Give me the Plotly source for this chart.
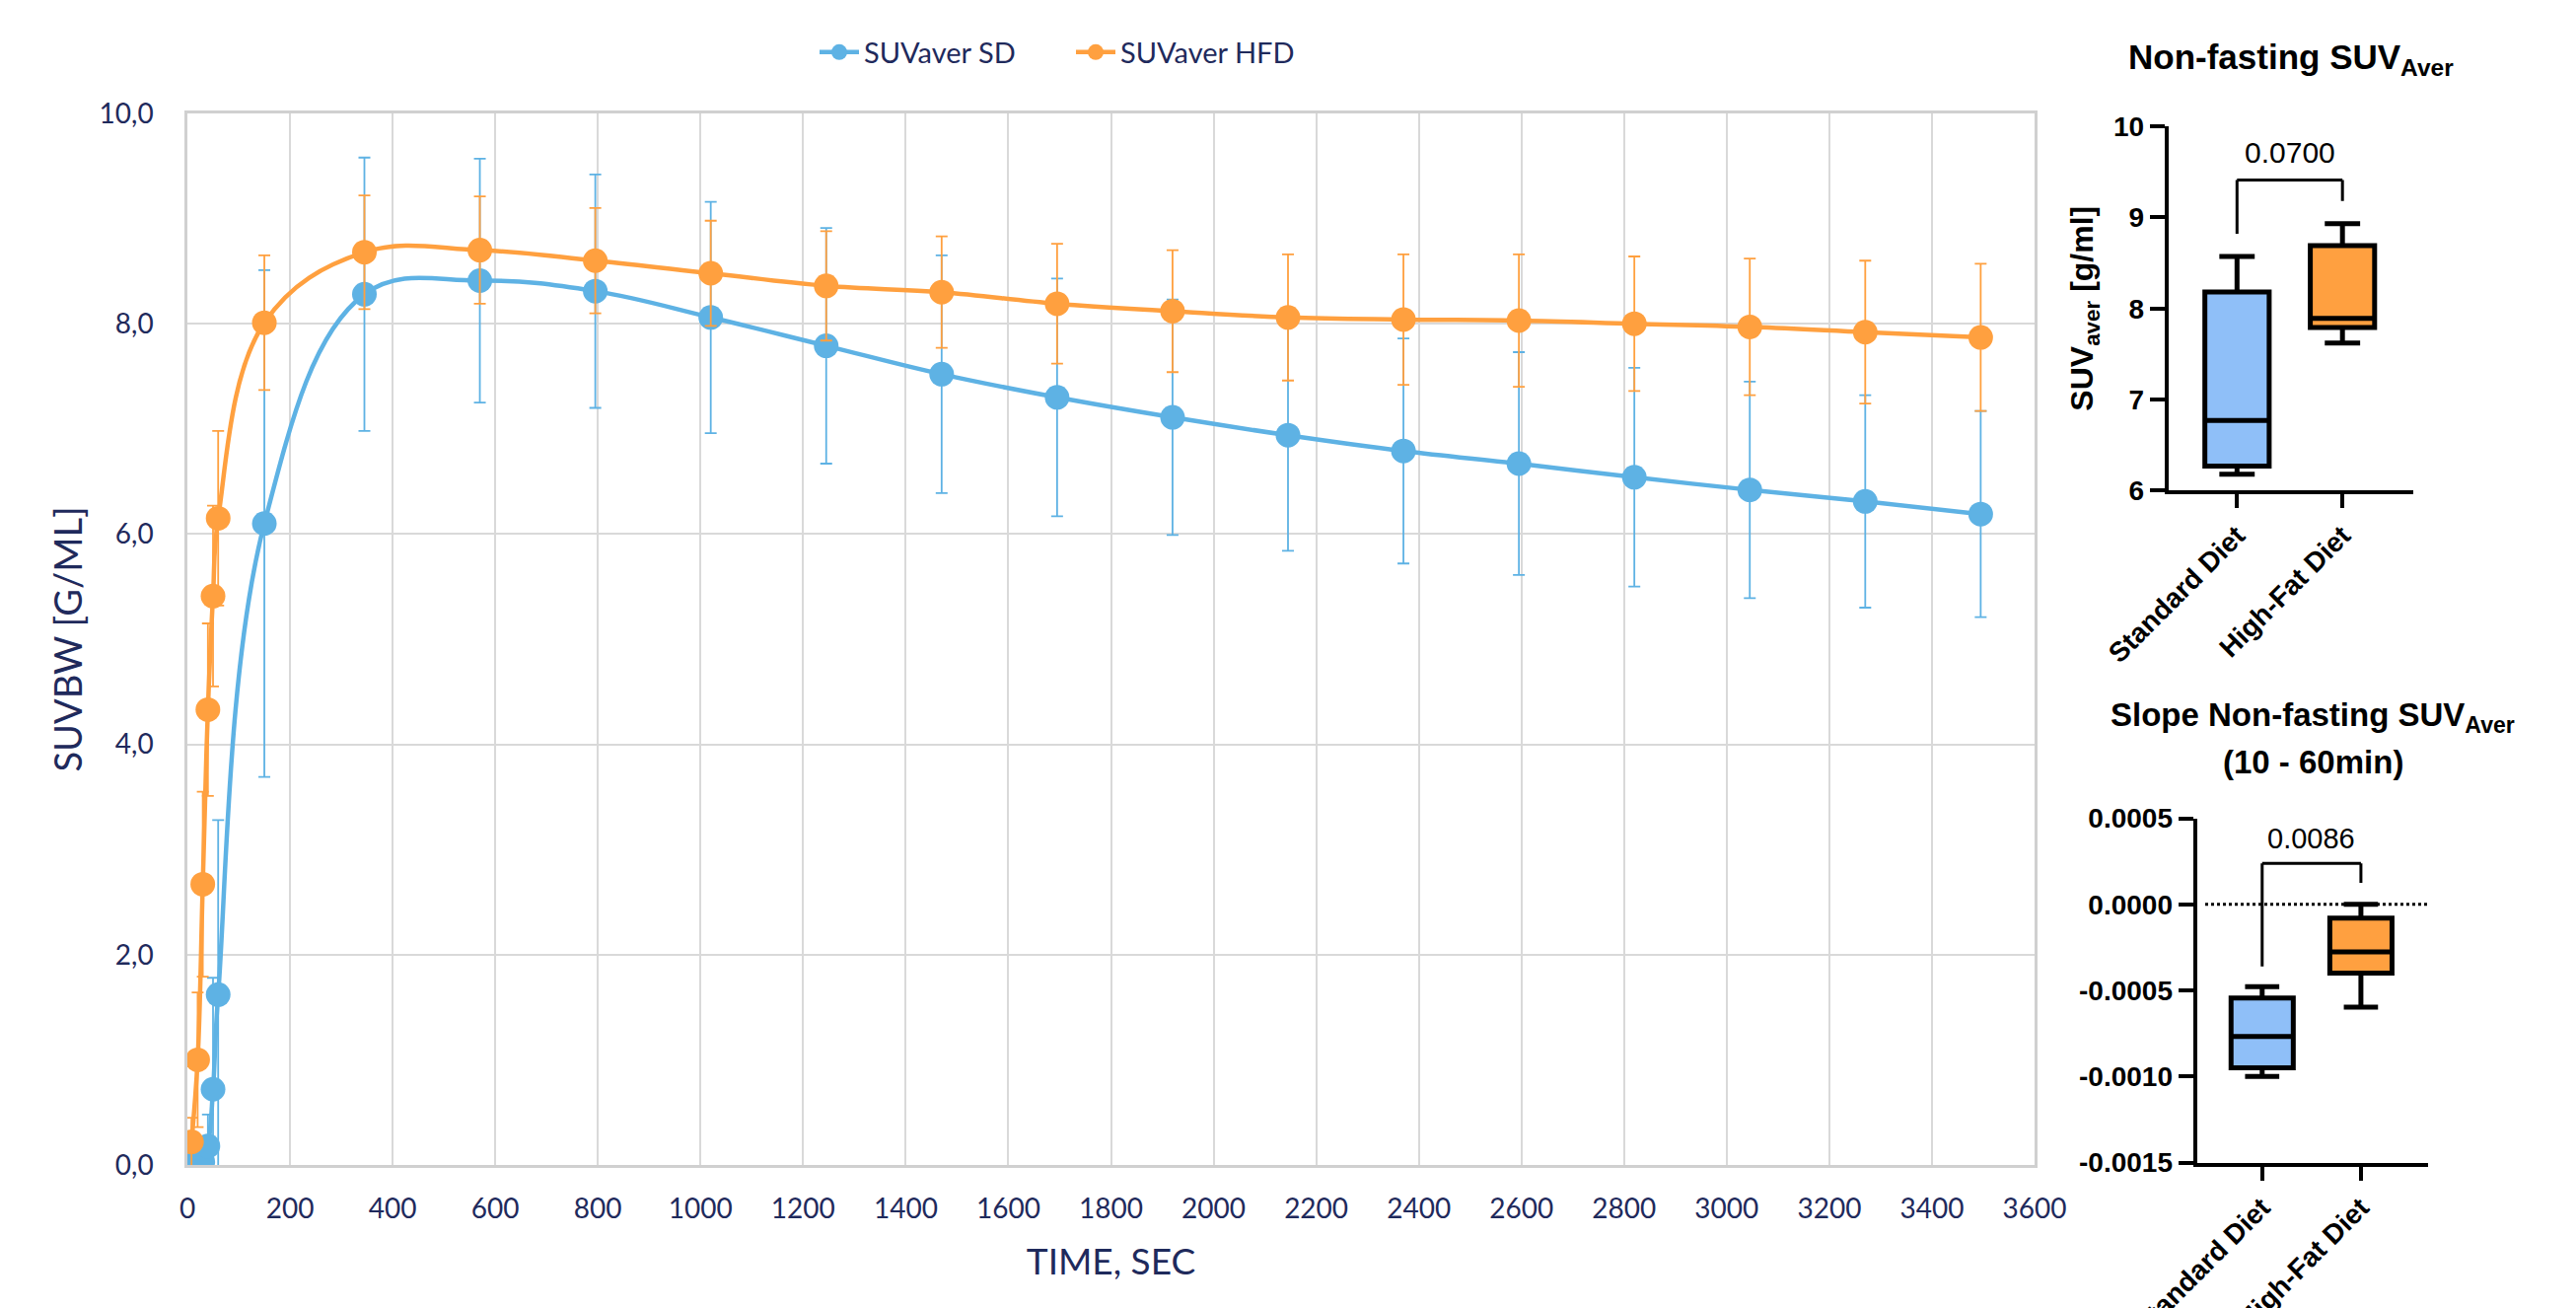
import plotly.graph_objects as go

# ---------------- main time-activity curve data ----------------
time_sec = [8, 20, 30, 40, 50, 60, 150, 345, 570, 795, 1020, 1245, 1470, 1695,
            1920, 2145, 2370, 2595, 2820, 3045, 3270, 3495]
sd_mean = [0.00, 0.01, 0.03, 0.18, 0.72, 1.62, 6.10, 8.28, 8.41, 8.31, 8.06, 7.79,
           7.52, 7.30, 7.11, 6.94, 6.79, 6.67, 6.54, 6.42, 6.31, 6.19]
sd_err = [0.01, 0.02, 0.05, 0.30, 1.06, 1.66, 2.41, 1.30, 1.16, 1.11, 1.10, 1.12,
          1.13, 1.13, 1.12, 1.10, 1.07, 1.06, 1.04, 1.03, 1.01, 0.98]
hfd_mean = [0.22, 1.00, 2.67, 4.33, 5.41, 6.15, 8.01, 8.68, 8.70, 8.60, 8.48, 8.36,
            8.30, 8.19, 8.12, 8.06, 8.04, 8.03, 8.00, 7.97, 7.92, 7.87]
hfd_err = [0.23, 0.64, 0.88, 0.82, 0.86, 0.83, 0.64, 0.54, 0.51, 0.50, 0.50, 0.52,
           0.53, 0.57, 0.58, 0.60, 0.62, 0.63, 0.64, 0.65, 0.68, 0.70]
y_tickvals = [0, 2, 4, 6, 8, 10]
y_ticktext = ["0,0", "2,0", "4,0", "6,0", "8,0", "10,0"]

# ---------------- box plot summaries ----------------
groups = ["Standard Diet", "High-Fat Diet"]
# Non-fasting SUVaver
suv_lower = [6.18, 7.62]
suv_q1 = [6.27, 7.79]
suv_median = [6.77, 7.89]
suv_q3 = [8.18, 8.69]
suv_upper = [8.57, 8.93]
suv_p = "0.0700"
# Slope (10 - 60 min)
slope_lower = [-0.00100, -0.000597]
slope_q1 = [-0.000950, -0.000399]
slope_median = [-0.000768, -0.000276]
slope_q3 = [-0.000544, -0.000080]
slope_upper = [-0.000478, 0.0]
slope_p = "0.0086"
slope_tickvals = [0.0005, 0.0, -0.0005, -0.0010, -0.0015]
slope_ticktext = ["0.0005", "0.0000", "-0.0005", "-0.0010", "-0.0015"]

W, H = 2612, 1326
OFF = 8  # page body margin
def px(x):
    return (x - OFF) / W
def py(y):
    return 1 - (y - OFF) / H

BLUE = "#5EB2E4"
ORANGE = "#FFA03F"
NAVY = "#1F2A5C"
BOX_BLUE = "#8FBFF8"
BOX_ORANGE = "#FFA040"
MAIN_FONT = "Lato"
PANEL_FONT = "Liberation Sans"

fig = go.Figure()

for name, mean, err, col in [("SUVaver SD", sd_mean, sd_err, BLUE),
                             ("SUVaver HFD", hfd_mean, hfd_err, ORANGE)]:
    fig.add_trace(go.Scatter(
        x=time_sec, y=mean, name=name, mode="lines+markers",
        line=dict(color=col, width=4.5, shape="spline", smoothing=1.1),
        marker=dict(color=col, size=25),
        error_y=dict(type="data", array=err, visible=True, color=col,
                     thickness=1.8, width=6),
        xaxis="x", yaxis="y", cliponaxis=True,
    ))

box_sets = [
    ("x2", "y2", suv_lower, suv_q1, suv_median, suv_q3, suv_upper, 0.61),
    ("x3", "y3", slope_lower, slope_q1, slope_median, slope_q3, slope_upper, 0.63),
]
for xa, ya, lo, q1, med, q3, up, bw in box_sets:
    for i, g in enumerate(groups):
        fig.add_trace(go.Box(
            x=[g], lowerfence=[lo[i]], q1=[q1[i]], median=[med[i]],
            q3=[q3[i]], upperfence=[up[i]],
            fillcolor=BOX_BLUE if i == 0 else BOX_ORANGE,
            line=dict(color="black", width=5),
            width=bw, whiskerwidth=0.55, boxpoints=False,
            showlegend=False, xaxis=xa, yaxis=ya, hoverinfo="skip",
        ))

grid = "#D9D9D9"
panel_tick = dict(family=PANEL_FONT, size=28, color="black", weight="bold")
fig.update_layout(
    width=W, height=H,
    margin=dict(l=0, r=0, t=0, b=0, autoexpand=False),
    paper_bgcolor="white", plot_bgcolor="white",
    showlegend=True,
    legend=dict(orientation="h", x=px(1086), y=py(53), xanchor="center",
                yanchor="middle", font=dict(family=MAIN_FONT, size=29, color=NAVY),
                itemwidth=40, entrywidth=205, bgcolor="rgba(0,0,0,0)"),
    xaxis=dict(domain=[px(190), px(2063)], range=[0, 3600], dtick=200, tick0=0,
               showgrid=True, gridcolor=grid, gridwidth=2, zeroline=False,
               showline=True, linecolor="#D0D0D0", linewidth=2.5, mirror=True,
               ticks="", tickfont=dict(family=MAIN_FONT, size=28, color=NAVY),
               ticklabelstandoff=18, automargin=False,
               title=dict(text="TIME, SEC", font=dict(family=MAIN_FONT, size=37, color=NAVY),
                          standoff=26),
               anchor="y"),
    yaxis=dict(domain=[py(1181), py(115)], range=[0, 10],
               tickvals=y_tickvals, ticktext=y_ticktext,
               showgrid=True, gridcolor=grid, gridwidth=2, zeroline=False,
               showline=True, linecolor="#D0D0D0", linewidth=2.5, mirror=True,
               ticks="", tickfont=dict(family=MAIN_FONT, size=28, color=NAVY),
               ticklabelstandoff=26, automargin=False,
               title=dict(text="SUVBW [G/ML]", font=dict(family=MAIN_FONT, size=38, color=NAVY),
                          standoff=6),
               anchor="x"),
    xaxis2=dict(domain=[px(2198.8), px(2446.5)], type="category",
                categoryorder="array", categoryarray=groups,
                range=[-0.65, 1.667], showgrid=False, zeroline=False,
                showline=True, linecolor="black", linewidth=4,
                ticks="outside", ticklen=14, tickwidth=4, tickcolor="black",
                tickangle=-45, automargin=False, tickfont=panel_tick,
                anchor="y2"),
    yaxis2=dict(domain=[py(497.4), py(128)], range=[6, 10], dtick=1,
                showgrid=False, zeroline=False,
                showline=True, linecolor="black", linewidth=4,
                ticks="outside", ticklen=15, tickwidth=4, tickcolor="black",
                automargin=False, tickfont=panel_tick,
                title=dict(text="<b>SUV<sub>aver</sub> [g/ml]</b>",
                           font=dict(family=PANEL_FONT, size=32, color="black"),
                           standoff=12),
                anchor="x2"),
    xaxis3=dict(domain=[px(2227.6), px(2461.7)], type="category",
                categoryorder="array", categoryarray=groups,
                range=[-0.661, 1.677], showgrid=False, zeroline=False,
                showline=True, linecolor="black", linewidth=4,
                ticks="outside", ticklen=14, tickwidth=4, tickcolor="black",
                tickangle=-45, automargin=False, tickfont=panel_tick,
                anchor="y3"),
    yaxis3=dict(domain=[py(1178.6), py(829.6)], range=[-0.0015, 0.0005],
                tickvals=slope_tickvals, ticktext=slope_ticktext,
                showgrid=False, zeroline=False,
                showline=True, linecolor="black", linewidth=4,
                ticks="outside", ticklen=15, tickwidth=4, tickcolor="black",
                automargin=False, tickfont=panel_tick,
                anchor="x3"),
)

# significance brackets
def bracket(xr, yr, left_bottom, top, right_bottom):
    for x0, y0, x1, y1 in [(0, left_bottom, 0, top), (0, top, 1, top), (1, top, 1, right_bottom)]:
        fig.add_shape(type="line", xref=xr, yref=yr, x0=x0, y0=y0, x1=x1, y1=y1,
                      line=dict(color="black", width=3))

bracket("x2", "y2", 8.82, 9.41, 9.18)
bracket("x3", "y3", -0.00036, 0.000238, 0.000125)

fig.add_shape(type="line", xref="x3", yref="y3", x0=-0.577, x1=1.677, y0=0, y1=0,
              line=dict(color="black", width=3, dash="dot"))

fig.add_annotation(xref="x2", yref="y2", x=0.5, y=9.71, text=suv_p, showarrow=False,
                   font=dict(family=PANEL_FONT, size=30, color="black"),
                   xanchor="center", yanchor="middle")
fig.add_annotation(xref="x3", yref="y3", x=0.5, y=0.000385, text=slope_p, showarrow=False,
                   font=dict(family=PANEL_FONT, size=29, color="black"),
                   xanchor="center", yanchor="middle")

# panel titles
fig.add_annotation(xref="paper", yref="paper", x=px(2323), y=py(60),
                   text="<b>Non-fasting SUV<sub>Aver</sub></b>", showarrow=False,
                   font=dict(family=PANEL_FONT, size=35, color="black"),
                   xanchor="center", yanchor="middle")
fig.add_annotation(xref="paper", yref="paper", x=px(2345), y=py(727),
                   text="<b>Slope Non-fasting SUV<sub>Aver</sub></b>", showarrow=False,
                   font=dict(family=PANEL_FONT, size=33, color="black"),
                   xanchor="center", yanchor="middle")
fig.add_annotation(xref="paper", yref="paper", x=px(2345), y=py(773),
                   text="<b>(10 - 60min)</b>", showarrow=False,
                   font=dict(family=PANEL_FONT, size=33, color="black"),
                   xanchor="center", yanchor="middle")

fig.write_html("out.html")
